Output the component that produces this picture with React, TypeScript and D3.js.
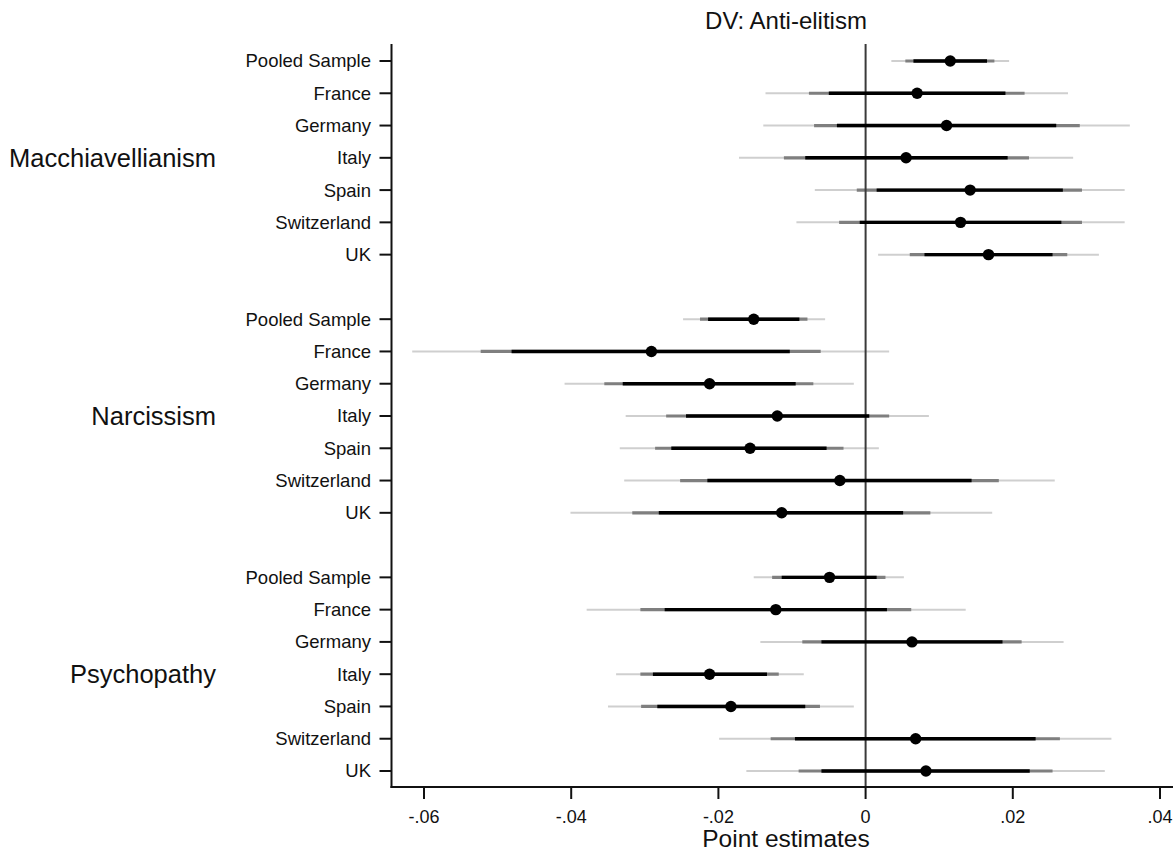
import React from "react";
import * as d3 from "d3";

const traits = ["Macchiavellianism", "Narcissism", "Psychopathy"];
const countries = ["Pooled Sample", "France", "Germany", "Italy", "Spain", "Switzerland", "UK"];
const xTicks = [-0.06, -0.04, -0.02, 0, 0.02, 0.04];

// point estimates per trait (rows follow `countries`)
const machPoint = [0.0115, 0.007, 0.011, 0.0055, 0.0142, 0.0129, 0.0167];
const narcPoint = [-0.0152, -0.0291, -0.0212, -0.012, -0.0157, -0.0035, -0.0114];
const psycPoint = [-0.0049, -0.0122, 0.0063, -0.0212, -0.0183, 0.0068, 0.0082];

// inner interval (black)
const machInner = [[0.0065, 0.0165], [-0.005, 0.019], [-0.0039, 0.0259], [-0.0082, 0.0193], [0.0015, 0.0268], [-0.0008, 0.0266], [0.008, 0.0254]];
const narcInner = [[-0.0214, -0.009], [-0.0481, -0.0103], [-0.033, -0.0095], [-0.0244, 0.0005], [-0.0264, -0.0053], [-0.0215, 0.0144], [-0.0281, 0.0051]];
const psycInner = [[-0.0114, 0.0015], [-0.0273, 0.0029], [-0.006, 0.0186], [-0.0289, -0.0134], [-0.0283, -0.0082], [-0.0096, 0.0231], [-0.006, 0.0223]];

// middle interval (grey)
const machMid = [[0.0054, 0.0175], [-0.0077, 0.0216], [-0.007, 0.0291], [-0.0111, 0.0222], [-0.0012, 0.0294], [-0.0036, 0.0294], [0.006, 0.0274]];
const narcMid = [[-0.0225, -0.0079], [-0.0523, -0.0061], [-0.0355, -0.0071], [-0.0271, 0.0032], [-0.0286, -0.003], [-0.0252, 0.0181], [-0.0317, 0.0088]];
const psycMid = [[-0.0127, 0.0027], [-0.0306, 0.0062], [-0.0086, 0.0212], [-0.0306, -0.0118], [-0.0305, -0.0062], [-0.0129, 0.0264], [-0.0091, 0.0254]];

// outer interval (light grey)
const machOuter = [[0.0035, 0.0195], [-0.0136, 0.0275], [-0.0139, 0.0359], [-0.0172, 0.0282], [-0.0069, 0.0352], [-0.0094, 0.0352], [0.0017, 0.0317]];
const narcOuter = [[-0.0248, -0.0055], [-0.0616, 0.0032], [-0.0409, -0.0016], [-0.0326, 0.0086], [-0.0334, 0.0018], [-0.0328, 0.0257], [-0.0401, 0.0172]];
const psycOuter = [[-0.0152, 0.0052], [-0.0379, 0.0136], [-0.0143, 0.0269], [-0.0339, -0.0084], [-0.035, -0.0016], [-0.0199, 0.0334], [-0.0162, 0.0325]];

const points = [machPoint, narcPoint, psycPoint];
const inners = [machInner, narcInner, psycInner];
const mids = [machMid, narcMid, psycMid];
const outers = [machOuter, narcOuter, psycOuter];

const FONT = "'Liberation Sans', Arial, sans-serif";
const W = 1173;
const H = 851;

export default function App() {
  const x = d3.scaleLinear().domain([-0.06, 0.04]).range([424, 1160]);
  const y = d3.scaleLinear().domain([0, 22]).range([61, 771]);
  const axisX = 391.5;
  const axisY = 787;
  const plotTop = 44;
  const fmt = (v: number) => {
    if (v === 0) return "0";
    const s = Math.abs(v).toFixed(2).replace(/^0/, "");
    return (v < 0 ? "-" : "") + s;
  };

  const rows: any[] = [];
  traits.forEach((t, gi) => {
    countries.forEach((c, ci) => {
      rows.push({
        key: `${gi}-${ci}`,
        label: c,
        pos: gi * 8 + ci,
        p: points[gi][ci],
        inner: inners[gi][ci],
        mid: mids[gi][ci],
        outer: outers[gi][ci],
      });
    });
  });

  return (
    <svg width={W} height={H} style={{ position: "absolute", left: 0, top: 0, background: "#fff" }} fontFamily={FONT}>
      <rect x={0} y={0} width={W} height={H} fill="#fff" />
      <text x={786} y={29} textAnchor="middle" fontSize={24} fill="#111">DV: Anti-elitism</text>

      {/* intervals */}
      {rows.map((r) => (
        <g key={r.key}>
          <line x1={x(r.outer[0])} x2={x(r.outer[1])} y1={y(r.pos)} y2={y(r.pos)} stroke="#cfcfcf" strokeWidth={2} />
          <line x1={x(r.mid[0])} x2={x(r.mid[1])} y1={y(r.pos)} y2={y(r.pos)} stroke="#7f7f7f" strokeWidth={3.2} />
        </g>
      ))}

      {/* zero line */}
      <line x1={x(0)} x2={x(0)} y1={plotTop} y2={axisY} stroke="#3a3a3a" strokeWidth={2} />

      {rows.map((r) => (
        <g key={r.key + "b"}>
          <line x1={x(r.inner[0])} x2={x(r.inner[1])} y1={y(r.pos)} y2={y(r.pos)} stroke="#000" strokeWidth={3.4} />
          <circle cx={x(r.p)} cy={y(r.pos)} r={5.7} fill="#000" />
        </g>
      ))}

      {/* y axis */}
      <line x1={axisX} x2={axisX} y1={plotTop} y2={axisY + 1} stroke="#111" strokeWidth={2} />
      {rows.map((r) => (
        <g key={r.key + "t"}>
          <line x1={axisX - 12} x2={axisX} y1={y(r.pos)} y2={y(r.pos)} stroke="#111" strokeWidth={2} />
          <text x={371} y={y(r.pos)} dy="0.35em" textAnchor="end" fontSize={18.5} fill="#111">{r.label}</text>
        </g>
      ))}
      {traits.map((t, gi) => (
        <text key={t} x={216} y={y(gi * 8 + 3)} dy="0.35em" textAnchor="end" fontSize={25.5} fill="#111">{t}</text>
      ))}

      {/* x axis */}
      <line x1={axisX - 1} x2={W} y1={axisY} y2={axisY} stroke="#111" strokeWidth={2} />
      {xTicks.map((v) => (
        <g key={v}>
          <line x1={x(v)} x2={x(v)} y1={axisY} y2={axisY + 12} stroke="#111" strokeWidth={2} />
          <text x={x(v)} y={823} textAnchor="middle" fontSize={18} fill="#111">{fmt(v)}</text>
        </g>
      ))}
      <text x={786} y={847} textAnchor="middle" fontSize={24.5} fill="#111">Point estimates</text>
    </svg>
  );
}
